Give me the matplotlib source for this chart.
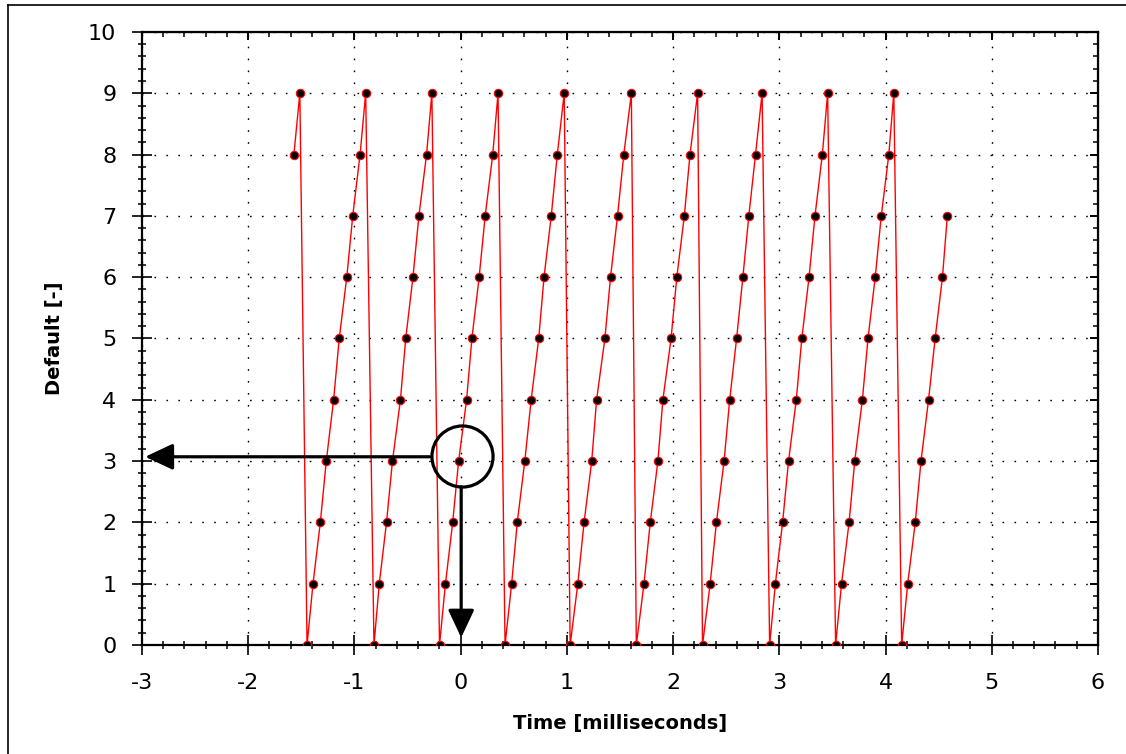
import matplotlib
matplotlib.use('Agg')
import matplotlib.pyplot as plt
from matplotlib.ticker import MultipleLocator
from matplotlib.lines import Line2D

# sample positions (ms), one list per ramp, levels 0..9
levels = [0, 1, 2, 3, 4, 5, 6, 7, 8, 9]

ramp_01 = [-1.570, -1.514]  # only levels 8 and 9 visible
ramp_02 = [-1.446, -1.390, -1.321, -1.265, -1.196, -1.143, -1.072, -1.016, -0.947, -0.894]
ramp_03 = [-0.816, -0.766, -0.698, -0.642, -0.567, -0.517, -0.449, -0.393, -0.321, -0.271]
ramp_04 = [-0.199, -0.143, -0.075, -0.019, 0.056, 0.106, 0.174, 0.231, 0.302, 0.352]
ramp_05 = [0.418, 0.480, 0.533, 0.604, 0.664, 0.735, 0.785, 0.853, 0.910, 0.975]
ramp_06 = [1.031, 1.103, 1.162, 1.234, 1.280, 1.358, 1.411, 1.477, 1.536, 1.607]
ramp_07 = [1.654, 1.726, 1.785, 1.857, 1.904, 1.981, 2.035, 2.106, 2.159, 2.231]
ramp_08 = [2.277, 2.349, 2.408, 2.480, 2.533, 2.598, 2.657, 2.713, 2.776, 2.838]
ramp_09 = [2.909, 2.963, 3.031, 3.087, 3.160, 3.212, 3.280, 3.336, 3.405, 3.455]
ramp_10 = [3.530, 3.586, 3.657, 3.710, 3.782, 3.835, 3.903, 3.960, 4.031, 4.078]
ramp_11 = [4.152, 4.209, 4.280, 4.334, 4.405, 4.467, 4.536, 4.582]  # ends at level 7

ramps = [ramp_01, ramp_02, ramp_03, ramp_04, ramp_05, ramp_06,
         ramp_07, ramp_08, ramp_09, ramp_10, ramp_11]

t = []
y = []
for r in ramps:
    if r is ramp_01:
        t += r
        y += levels[8:10]
    else:
        t += r
        y += levels[:len(r)]

plt.rcParams['font.family'] = ['DejaVu Sans']
plt.rcParams['axes.unicode_minus'] = False

fig = plt.figure(figsize=(11.26, 7.54), dpi=100)
ax = fig.add_axes([0.1261, 0.1446, 0.8490, 0.8130])

ax.plot(t, y, color='#ff0000', lw=1.0, marker='o', ms=6,
        mfc='black', mec='#ff0000', mew=0.8, zorder=3)

ax.set_xlim(-3, 6)
ax.set_ylim(0, 10)
ax.xaxis.set_major_locator(MultipleLocator(1))
ax.xaxis.set_minor_locator(MultipleLocator(0.2))
ax.yaxis.set_major_locator(MultipleLocator(1))
ax.yaxis.set_minor_locator(MultipleLocator(0.2))

ax.grid(True, which='major', color='black', lw=1.0, linestyle=(0, (1.2, 7.4)))
ax.tick_params(which='major', direction='inout', length=15, width=1.2,
               labelsize=16, colors='black')
ax.tick_params(axis='y', which='major', pad=11)
ax.tick_params(axis='x', which='major', pad=13)
ax.tick_params(which='minor', direction='inout', length=6, width=1.1)
for s in ax.spines.values():
    s.set_linewidth(1.6)

# inward ticks on the top and right edges
top = ax.secondary_xaxis('top')
top.xaxis.set_major_locator(MultipleLocator(1))
top.xaxis.set_minor_locator(MultipleLocator(0.2))
top.tick_params(which='major', direction='in', length=6, width=1.4, labeltop=False)
top.tick_params(which='minor', direction='in', length=3.5, width=1.1)
right = ax.secondary_yaxis('right')
right.yaxis.set_major_locator(MultipleLocator(1))
right.yaxis.set_minor_locator(MultipleLocator(0.2))
right.tick_params(which='major', direction='in', length=6, width=1.4, labelright=False)
right.tick_params(which='minor', direction='in', length=3.5, width=1.1)

ax.set_xlabel('Time [milliseconds]', fontsize=14, fontweight='bold', labelpad=15)
ax.set_ylabel('Default [-]', fontsize=14, fontweight='bold', labelpad=17)

# annotation: circle at t=0 with arrows to both axes
ax.plot([0.01], [3.08], marker='o', ms=44, mfc='none', mec='black', mew=2.3,
        zorder=5, clip_on=False)
arrow = dict(arrowstyle='-|>,head_length=17,head_width=8', mutation_scale=1,
             lw=2.3, color='black', shrinkA=0, shrinkB=0)
ax.annotate('', xy=(-2.97, 3.07), xytext=(-0.29, 3.07), arrowprops=arrow,
            annotation_clip=False, zorder=6)
ax.annotate('', xy=(0.005, 0.12), xytext=(0.005, 2.58), arrowprops=arrow,
            annotation_clip=False, zorder=6)

# frame of the original screenshot (left and top edge)
fig.add_artist(Line2D([8 / 1126, 8 / 1126], [0, 1 - 5 / 754], color='black', lw=1.2,
                      transform=fig.transFigure))
fig.add_artist(Line2D([8 / 1126, 1], [1 - 5 / 754, 1 - 5 / 754], color='black', lw=1.2,
                      transform=fig.transFigure))

fig.savefig('out.png', dpi=100)
